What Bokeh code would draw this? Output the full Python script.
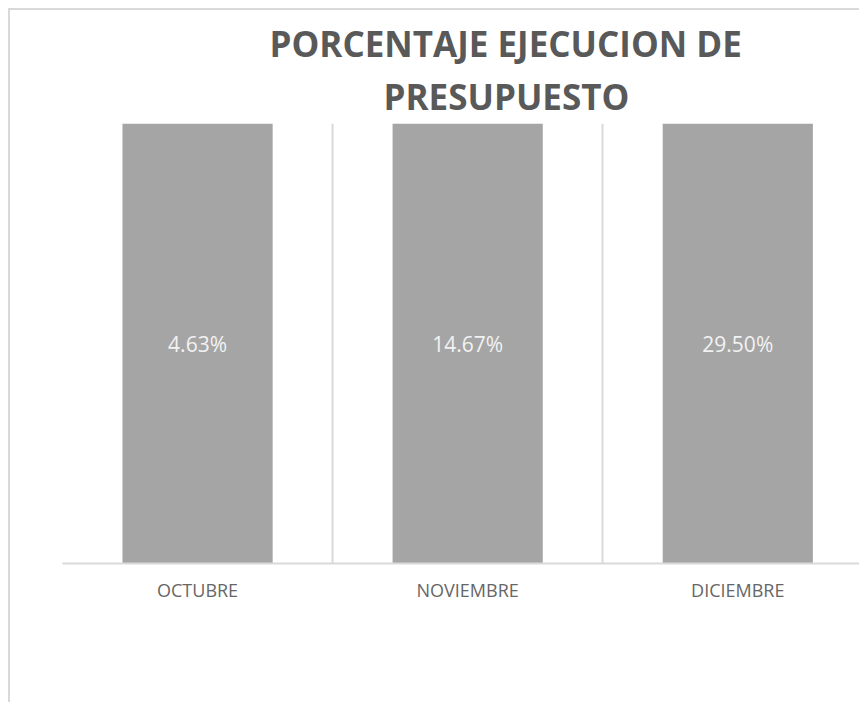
from bokeh.plotting import figure
from bokeh.models import FixedTicker, ColumnDataSource, Range1d, Title
from bokeh.core.properties import value
from bokeh.embed import file_html
from bokeh.resources import INLINE

# ---- data ----
categories = ["OCTUBRE", "NOVIEMBRE", "DICIEMBRE"]
percentages = [0.0463, 0.1467, 0.2950]
label_texts = ["4.63%", "14.67%", "29.50%"]
title_lines = ["PORCENTAJE  EJECUCION  DE", "PRESUPUESTO"]

# axis range (Excel axis maximum is below every value, so bars are clipped)
Y_MAX = 0.04
X_END = 2.958

positions = [i + 0.5 for i in range(len(categories))]
label_y = [min(v, Y_MAX) / 2 for v in percentages]

src = ColumnDataSource(dict(x=positions, top=percentages, ly=label_y, txt=label_texts))

p = figure(width=851, height=694, output_backend="svg", toolbar_location=None,
           x_range=Range1d(0, X_END), y_range=Range1d(0, Y_MAX),
           min_border_left=52, min_border_top=113, min_border_bottom=141,
           min_border_right=0)
p.styles = {"margin-left": "8px", "margin-top": "8px",
            "border-left": "2px solid #d9d9d9", "border-top": "2px solid #d9d9d9"}
p.outline_line_color = None
p.background_fill_color = "white"
p.border_fill_color = "white"

p.vbar(x="x", top="top", bottom=0, width=0.556, source=src,
       fill_color="#a5a5a5", line_color=None)

p.text(x="x", y="ly", text="txt", source=src, text_align="center",
       text_baseline="middle", text_font=value("Open Sans"),
       text_font_size="21px", text_color="#f2f2f2")

# axes
p.yaxis.visible = False
p.ygrid.grid_line_color = None
p.xgrid.ticker = FixedTicker(ticks=[0, 1, 2, 3])
p.xgrid.grid_line_color = "#d9d9d9"
p.xgrid.grid_line_width = 2

xa = p.xaxis[0]
xa.ticker = FixedTicker(ticks=positions)
xa.major_label_overrides = {pos: c for pos, c in zip(positions, categories)}
xa.axis_line_color = "#d9d9d9"
xa.axis_line_width = 2
xa.major_tick_line_color = None
xa.minor_tick_line_color = None
xa.major_tick_out = 0
xa.major_label_standoff = 14
xa.major_label_text_font = "Open Sans"
xa.major_label_text_font_size = "18px"
xa.major_label_text_color = "#666666"

# title: two lines, nearest line added first
title_style = dict(align="left", text_font="Open Sans", text_font_style="bold",
                   text_font_size="35px", text_color="#595959")
p.add_layout(Title(text=title_lines[1], offset=321, standoff=8, **title_style), "above")
p.add_layout(Title(text=title_lines[0], offset=207, standoff=0, **title_style), "above")

open("out.html", "w").write(file_html(p, INLINE))
